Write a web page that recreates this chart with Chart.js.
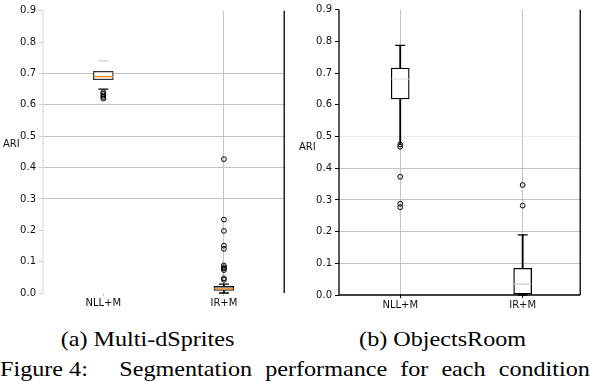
<!DOCTYPE html>
<html>
<head>
<meta charset="utf-8">
<script src="https://cdn.jsdelivr.net/npm/chart.js@4.4.1/dist/chart.umd.min.js"></script>
<style>
html,body{margin:0;padding:0;background:#fff;}
#wrap{position:relative;width:590px;height:382px;overflow:hidden;background:#fff;}
#wrap canvas{position:absolute;top:0;}
.ari{position:absolute;font-family:"DejaVu Sans";font-size:10px;line-height:10px;color:#111;}
.sub{position:absolute;top:329px;width:295px;text-align:center;font-family:"Liberation Serif","Times New Roman",serif;font-size:21px;line-height:21px;color:#000;white-space:nowrap;}
.sub span{display:inline-block;transform:scaleX(1.15);transform-origin:50% 50%;}
#fig{position:absolute;left:0;top:359px;width:513px;transform:scaleX(1.15);transform-origin:0 0;display:flex;justify-content:space-between;font-family:"Liberation Serif","Times New Roman",serif;font-size:21px;line-height:21px;color:#000;white-space:nowrap;}
</style>
</head>
<body>
<div id="wrap">
  <canvas id="c1" width="295" height="315" style="left:0;width:295px;height:315px"></canvas>
  <canvas id="c2" width="295" height="315" style="left:295px;width:295px;height:315px"></canvas>
  <div class="ari" style="left:3px;top:139px">ARI</div>
  <div class="ari" style="left:299px;top:142px">ARI</div>
  <div class="sub" style="left:0"><span>(a) Multi-dSprites</span></div>
  <div class="sub" style="left:295px"><span>(b) ObjectsRoom</span></div>
  <div id="fig"><span style="margin-right:16px">Figure 4:</span><span>Segmentation</span><span>performance</span><span>for</span><span>each</span><span>condition</span></div>
</div>
<script>
// ---- shared axes ----
const categories = ['NLL+M', 'IR+M'];
const xPositions = [1, 2];
const yTickValues = [0.0, 0.1, 0.2, 0.3, 0.4, 0.5, 0.6, 0.7, 0.8, 0.9];

// ---- (a) Multi-dSprites ----
const msQ1 = [0.680, 0.008];
const msQ3 = [0.707, 0.021];
const msMedian = [0.690, 0.013];
const msWhiskerLow = [0.650, 0.000];
const msWhiskerHigh = [0.740, 0.028];
const msOutliersNLL = [0.640, 0.635, 0.630, 0.625, 0.620];
const msOutliersIR = [0.427, 0.234, 0.198, 0.151, 0.141, 0.088, 0.082, 0.078, 0.073, 0.047, 0.042];

// ---- (b) ObjectsRoom ----
const orQ1 = [0.619, 0.003];
const orQ3 = [0.716, 0.084];
const orMedian = [0.681, 0.034];
const orWhiskerLow = [0.475, 0.000];
const orWhiskerHigh = [0.7875, 0.190];
const orOutliersNLL = [0.475, 0.468, 0.373, 0.288, 0.277];
const orOutliersIR = [0.347, 0.282];

const spinePlugin = {
  id: 'spines',
  afterDatasetsDraw(chart, args, opts) {
    const ctx = chart.ctx, a = chart.chartArea;
    ctx.save();
    ctx.lineWidth = 1.3;
    const seg = (c, x1, y1, x2, y2) => {
      if (!c) return;
      ctx.strokeStyle = c;
      ctx.beginPath(); ctx.moveTo(x1, y1); ctx.lineTo(x2, y2); ctx.stroke();
    };
    seg(opts.left, a.left, a.top, a.left, a.bottom);
    seg(opts.right, a.right, a.top, a.right, a.bottom);
    seg(opts.bottom, a.left, a.bottom, a.right, a.bottom);
    ctx.restore();
  }
};

function buildBoxChart(canvasId, d, st) {
  const pts = (vals, i) => vals.map(v => ({x: xPositions[i], y: v}));
  const per = (vals) => vals.map((v, i) => ({x: xPositions[i], y: v}));
  const range = (a, b) => a.map((v, i) => ({x: xPositions[i], y: [v, b[i]]}));
  const tickFont = {family: 'DejaVu Sans', size: 10};
  return new Chart(document.getElementById(canvasId), {
    type: 'bar',
    data: {
      datasets: [
        {type: 'line', label: 'outliers', data: [...pts(d.outNLL, 0), ...pts(d.outIR, 1)],
         showLine: false, pointStyle: 'circle', pointRadius: 2.4, pointBorderWidth: 1,
         pointBorderColor: '#000', pointBackgroundColor: 'rgba(0,0,0,0)', order: 0, clip: 6},
        {type: 'line', label: 'median', data: per(d.med), showLine: false, pointStyle: 'line',
         pointRadius: st.boxW / 2 - 0.5, pointBorderWidth: 1.3, pointBorderColor: st.medColors, order: 1, clip: 6},
        {type: 'line', label: 'capHigh', data: per(d.hiW), showLine: false, pointStyle: 'line',
         pointRadius: 5, pointBorderWidth: 1.3, pointBorderColor: st.capHiColors, order: 2, clip: 6},
        {type: 'line', label: 'capLow', data: per(d.loW), showLine: false, pointStyle: 'line',
         pointRadius: 5, pointBorderWidth: 1.3, pointBorderColor: st.capLoColors, order: 2, clip: 6},
        {type: 'bar', label: 'box', data: range(d.q1, d.q3), backgroundColor: '#fff',
         borderColor: st.boxColors, borderWidth: 1.3, borderSkipped: false,
         barThickness: st.boxW, grouped: false, order: 3},
        {type: 'bar', label: 'whiskerHigh', data: range(d.q3, d.hiW), backgroundColor: st.whiskerHiColors,
         borderWidth: 0, barThickness: 1.2, grouped: false, order: 4},
        {type: 'bar', label: 'whiskerLow', data: range(d.loW, d.q1), backgroundColor: st.whiskerLoColors,
         borderWidth: 0, barThickness: 1.2, grouped: false, order: 4}
      ]
    },
    options: {
      responsive: false, animation: false, devicePixelRatio: 1, events: [],
      layout: {padding: st.padding},
      plugins: {legend: {display: false}, tooltip: {enabled: false}, spines: st.spines},
      scales: {
        x: {
          type: 'linear', min: st.xMin, max: st.xMax, offset: false,
          afterBuildTicks: ax => { ax.ticks = xPositions.map(v => ({value: v})); },
          afterFit: s => { s.height = st.xAxisH; s.paddingLeft = 0; s.paddingRight = 0; },
          ticks: {callback: (v, i) => categories[i], font: tickFont, color: '#111', padding: 1, maxRotation: 0, autoSkip: false},
          grid: {offset: false, color: ctx => st.xGridColors[ctx.index], tickColor: st.tickColor, tickLength: 3, lineWidth: 1},
          border: {display: false}
        },
        y: {
          min: 0, max: 0.9,
          afterBuildTicks: ax => { ax.ticks = yTickValues.map(v => ({value: v})); },
          afterFit: s => { s.width = st.yAxisW; s.paddingTop = 0; s.paddingBottom = 0; },
          ticks: {callback: v => v.toFixed(1), font: tickFont, color: '#111', padding: 3},
          grid: {color: ctx => st.yGridColor(Math.round(ctx.tick.value * 10)), tickColor: st.tickColor, tickLength: 4, lineWidth: 1},
          border: {display: false}
        }
      }
    },
    plugins: [spinePlugin]
  });
}

const GRID = '#c4c4c4';

buildBoxChart('c1',
  {q1: msQ1, q3: msQ3, med: msMedian, loW: msWhiskerLow, hiW: msWhiskerHigh, outNLL: msOutliersNLL, outIR: msOutliersIR},
  {boxW: 20, xMin: 0.5, xMax: 2.5, xAxisH: 22, yAxisW: 43,
   padding: {top: 5, right: 4, left: 0, bottom: 0},
   medColors: ['#ff7f0e', '#ff7f0e'], capHiColors: ['#d0d0d0', '#000'], capLoColors: ['#000', '#000'],
   boxColors: ['#333', '#111'], whiskerHiColors: ['rgba(0,0,0,0)', '#000'], whiskerLoColors: ['rgba(0,0,0,0)', '#000'],
   xGridColors: ['rgba(0,0,0,0)', GRID], tickColor: '#c8c8c8',
   yGridColor: k => (k >= 3 && k <= 7) ? GRID : 'rgba(0,0,0,0)',
   spines: {left: '#dedede', right: '#000', bottom: null}});

buildBoxChart('c2',
  {q1: orQ1, q3: orQ3, med: orMedian, loW: orWhiskerLow, hiW: orWhiskerHigh, outNLL: orOutliersNLL, outIR: orOutliersIR},
  {boxW: 18, xMin: 0.5, xMax: 2.47, xAxisH: 20, yAxisW: 44,
   padding: {top: 7, right: 8, left: 0, bottom: 0},
   medColors: ['#e2e2e2', '#d8d8d8'], capHiColors: ['#000', '#000'], capLoColors: ['rgba(0,0,0,0)', '#000'],
   boxColors: ['#000', '#000'], whiskerHiColors: ['#000', '#000'], whiskerLoColors: ['#000', '#000'],
   xGridColors: [GRID, GRID], tickColor: '#000',
   yGridColor: k => (k >= 1 && k <= 4) ? GRID : (k === 5 ? '#ececec' : 'rgba(0,0,0,0)'),
   spines: {left: '#000', right: '#000', bottom: '#000'}});
</script>
</body>
</html>
